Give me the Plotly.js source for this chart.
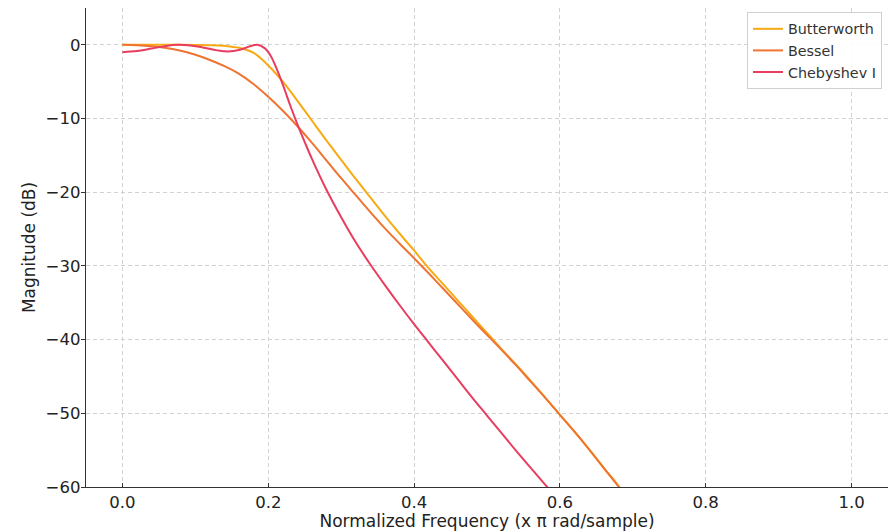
<!DOCTYPE html>
<html>
<head>
<meta charset="utf-8">
<script src="https://cdn.plot.ly/plotly-3.0.1.min.js"></script>
<style>html,body{margin:0;padding:0;background:#fff;}#chart{width:896px;height:531px;}</style>
</head>
<body>
<div id="chart"></div>
<script>
// Butterworth
var butterX = [0, 0.02, 0.04, 0.06, 0.08, 0.1, 0.12, 0.14, 0.16, 0.18, 0.2, 0.22, 0.24, 0.26, 0.28, 0.3, 0.32, 0.34, 0.36, 0.38, 0.4, 0.42, 0.44, 0.46, 0.48, 0.5, 0.52, 0.54, 0.56, 0.58, 0.6, 0.62, 0.64, 0.66, 0.68, 0.7];
var butterY = [0, 0, 0, 0, 0, -0.01, -0.04, -0.13, -0.4, -1.1, -2.8, -5.0, -7.6, -10.3, -13.0, -15.6, -18.2, -20.7, -23.2, -25.6, -27.9, -30.3, -32.5, -34.7, -36.9, -39.1, -41.3, -43.4, -45.6, -47.9, -50.2, -52.5, -54.9, -57.4, -59.8, -62.5];

// Bessel
var besselX = [0, 0.02, 0.04, 0.06, 0.08, 0.1, 0.12, 0.14, 0.16, 0.18, 0.2, 0.22, 0.24, 0.26, 0.28, 0.3, 0.32, 0.34, 0.36, 0.38, 0.4, 0.42, 0.44, 0.46, 0.48, 0.5, 0.52, 0.54, 0.56, 0.58, 0.6, 0.62, 0.64, 0.66, 0.68, 0.7];
var besselY = [0, -0.05, -0.18, -0.42, -0.8, -1.35, -2.05, -2.9, -3.95, -5.35, -7.05, -8.95, -11.05, -13.3, -15.7, -18.1, -20.4, -22.7, -24.9, -26.95, -28.95, -31.0, -33.1, -35.2, -37.3, -39.35, -41.4, -43.5, -45.7, -47.9, -50.2, -52.5, -54.9, -57.4, -59.9, -62.5];

// Chebyshev I
var chebX = [0, 0.02, 0.04, 0.06, 0.075, 0.09, 0.11, 0.13, 0.145, 0.16, 0.175, 0.185, 0.195, 0.2, 0.205, 0.21, 0.215, 0.22, 0.225, 0.23, 0.24, 0.25, 0.26, 0.28, 0.3, 0.32, 0.34, 0.36, 0.38, 0.4, 0.42, 0.44, 0.46, 0.48, 0.5, 0.52, 0.54, 0.56, 0.58, 0.6];
var chebY = [-1.0, -0.85, -0.5, -0.15, 0, -0.05, -0.35, -0.75, -0.9, -0.7, -0.2, 0, -0.45, -1.0, -1.8, -2.9, -4.1, -5.4, -6.8, -8.2, -10.8, -13.2, -15.5, -19.7, -23.4, -26.8, -29.8, -32.6, -35.3, -37.9, -40.4, -42.9, -45.4, -47.9, -50.3, -52.7, -55.1, -57.4, -59.7, -62.0];

var xTicks = [0, 0.2, 0.4, 0.6, 0.8, 1.0];
var xTickText = ["0.0", "0.2", "0.4", "0.6", "0.8", "1.0"];
var yTicks = [-60, -50, -40, -30, -20, -10, 0];

var traces = [
  {x: butterX, y: butterY, name: "Butterworth", mode: "lines", line: {color: "#F7AA14", width: 2, shape: "spline", smoothing: 1}},
  {x: besselX, y: besselY, name: "Bessel", mode: "lines", line: {color: "#EF7431", width: 2, shape: "spline", smoothing: 1}},
  {x: chebX, y: chebY, name: "Chebyshev I", mode: "lines", line: {color: "#E83D60", width: 2, shape: "spline", smoothing: 1}}
];

var tickFont = {family: "DejaVu Sans, sans-serif", size: 16.5, color: "#222"};
var titleFont = {family: "DejaVu Sans, sans-serif", size: 17, color: "#222"};

var layout = {
  width: 896, height: 531,
  margin: {l: 86, r: 8, t: 8, b: 44},
  paper_bgcolor: "#fff", plot_bgcolor: "#fff",
  font: tickFont,
  showlegend: true,
  legend: {
    x: 0.9925, y: 0.9916, xanchor: "right", yanchor: "top",
    bgcolor: "rgba(255,255,255,0.9)", bordercolor: "#d0d0d0", borderwidth: 1,
    font: {family: "DejaVu Sans, sans-serif", size: 14.3, color: "#333"}
  },
  xaxis: {
    range: [-0.05, 1.05],
    tickvals: xTicks, ticktext: xTickText,
    showgrid: true, gridcolor: "#d2d2d2", griddash: "4px,3px", gridwidth: 1,
    zeroline: false,
    showline: true, linecolor: "#333", linewidth: 1.3,
    ticks: "inside", ticklen: 4, tickcolor: "#333",
    tickfont: tickFont,
    title: {text: "Normalized Frequency (x π rad/sample)", font: titleFont, standoff: 4}
  },
  yaxis: {
    range: [-60, 5],
    tickvals: yTicks,
    showgrid: true, gridcolor: "#d2d2d2", griddash: "4px,3px", gridwidth: 1,
    zeroline: false,
    showline: true, linecolor: "#333", linewidth: 1.3,
    ticks: "outside", ticklen: 4, tickcolor: "#333",
    ticklabelstandoff: -3,
    tickfont: tickFont,
    title: {text: "Magnitude (dB)", font: titleFont, standoff: 5}
  }
};

Plotly.newPlot("chart", traces, layout, {displayModeBar: false, staticPlot: true});
</script>
</body>
</html>
